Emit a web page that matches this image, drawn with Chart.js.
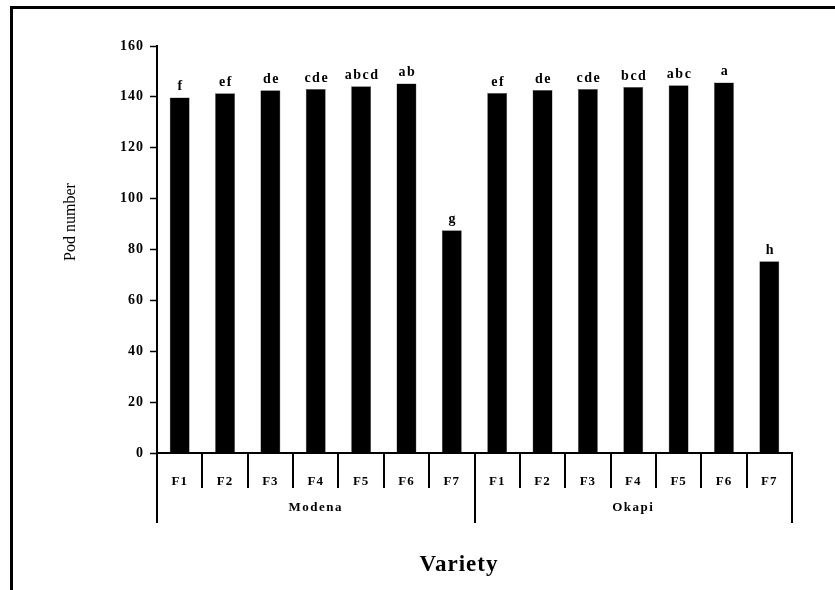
<!DOCTYPE html>
<html>
<head>
<meta charset="utf-8">
<script src="https://cdn.jsdelivr.net/npm/chart.js@4.4.0/dist/chart.umd.min.js"></script>
<style>
  body { margin: 0; background: #fff; }
  canvas { display: block; }
</style>
</head>
<body>
<canvas id="chart" width="835" height="590"></canvas>
<script>
// values
const treatments = ["F1", "F2", "F3", "F4", "F5", "F6", "F7"];
const varieties = ["Modena", "Okapi"];
const modenaPods = [139.8, 141.4, 142.6, 143.1, 144.2, 145.3, 87.6];
const okapiPods = [141.5, 142.7, 143.1, 143.9, 144.6, 145.7, 75.4];
const modenaLetters = ["f", "ef", "de", "cde", "abcd", "ab", "g"];
const okapiLetters = ["ef", "de", "cde", "bcd", "abc", "a", "h"];
const yTicks = [0, 20, 40, 60, 80, 100, 120, 140, 160];

const labels = treatments.concat(treatments);
const values = modenaPods.concat(okapiPods);
const letters = modenaLetters.concat(okapiLetters);

const SERIF = "'Liberation Serif', 'DejaVu Serif', serif";

const decorPlugin = {
  id: "decor",
  beforeDraw(chart) {
    chart.ctx.letterSpacing = "1px";
  },
  afterDatasetsDraw(chart) {
    const ctx = chart.ctx;
    const area = chart.chartArea;
    const step = (area.right - area.left) / labels.length;

    ctx.save();
    // frame
    ctx.strokeStyle = "#000";
    ctx.lineWidth = 3;
    ctx.strokeRect(11.5, 7.5, 1000, 1000);

    // letters above bars
    ctx.fillStyle = "#000";
    ctx.letterSpacing = "1.5px";
    ctx.font = "bold 14px " + SERIF;
    ctx.textAlign = "center";
    ctx.textBaseline = "bottom";
    chart.getDatasetMeta(0).data.forEach((bar, i) => {
      ctx.fillText(letters[i], bar.x + 1, bar.y - 4);
    });

    // separators under the axis
    ctx.lineWidth = 2;
    for (let i = 0; i <= labels.length; i++) {
      const px = Math.round(area.left + i * step);
      const isGroup = i % treatments.length === 0;
      ctx.beginPath();
      ctx.moveTo(px, area.bottom);
      ctx.lineTo(px, area.bottom + (isGroup ? 70 : 35));
      ctx.stroke();
    }

    // variety names
    ctx.font = "bold 13px " + SERIF;
    ctx.letterSpacing = "1.5px";
    ctx.textBaseline = "middle";
    varieties.forEach((v, g) => {
      const cx = area.left + (g + 0.5) * treatments.length * step;
      ctx.fillText(v, cx, area.bottom + 55);
    });

    // axis titles
    ctx.font = "bold 23px " + SERIF;
    ctx.letterSpacing = "1px";
    ctx.fillText("Variety", 459, 565);

    ctx.font = "16px " + SERIF;
    ctx.letterSpacing = "0px";
    ctx.translate(71, 222);
    ctx.rotate(-Math.PI / 2);
    ctx.fillText("Pod number", 0, 0);
    ctx.restore();
  }
};

new Chart(document.getElementById("chart"), {
  type: "bar",
  data: {
    labels: labels,
    datasets: [{
      data: values,
      backgroundColor: "#000",
      borderColor: "#555",
      borderWidth: 0.5,
      barPercentage: 0.44,
      categoryPercentage: 1
    }]
  },
  options: {
    responsive: false,
    devicePixelRatio: 1,
    animation: false,
    layout: { padding: { top: 46, right: 43, left: 0, bottom: 0 } },
    plugins: { legend: { display: false }, tooltip: { enabled: false } },
    scales: {
      x: {
        grid: { display: false },
        border: { color: "#000", width: 2 },
        ticks: {
          color: "#000",
          padding: 13,
          font: { family: SERIF, size: 13, weight: "bold" },
          maxRotation: 0,
          autoSkip: false
        },
        afterFit(scale) { scale.height = 137; }
      },
      y: {
        min: 0,
        max: 160,
        afterBuildTicks(scale) { scale.ticks = yTicks.map(v => ({ value: v })); },
        grid: { drawOnChartArea: false, color: "#000", tickLength: 7, tickWidth: 1.5 },
        border: { color: "#000", width: 2 },
        ticks: {
          color: "#000",
          padding: 6,
          font: { family: SERIF, size: 14, weight: "bold" }
        },
        afterFit(scale) { scale.width = 157; }
      }
    }
  },
  plugins: [decorPlugin]
});
</script>
</body>
</html>
